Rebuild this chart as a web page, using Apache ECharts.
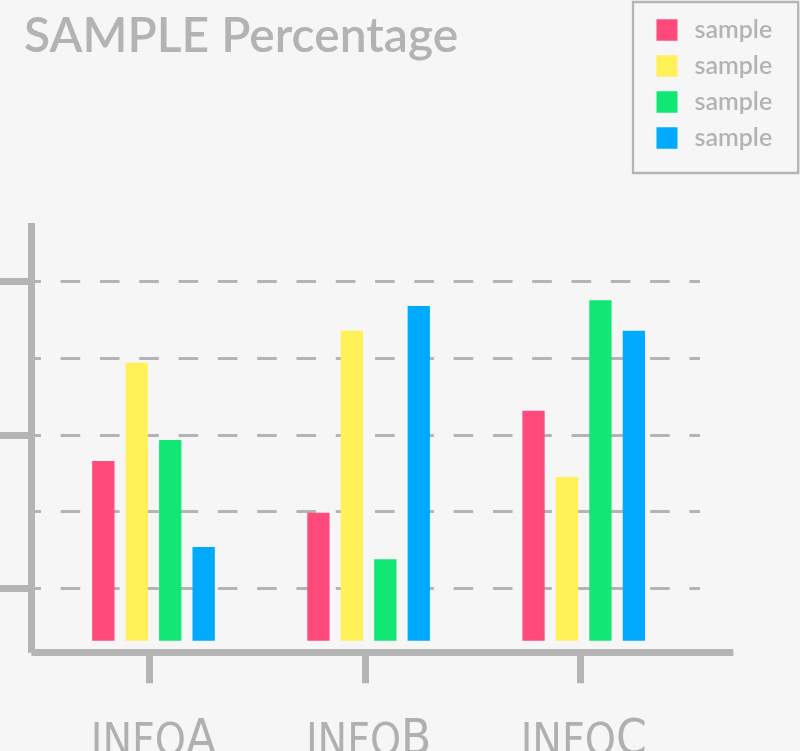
<!DOCTYPE html>
<html>
<head>
<meta charset="utf-8">
<script src="https://cdn.jsdelivr.net/npm/echarts@6/dist/echarts.min.js"></script>
<style>
html,body{margin:0;padding:0;background:#f6f6f6;}
#chart{width:800px;height:751px;}
</style>
</head>
<body>
<div id="chart"></div>
<script>
const titleText = 'SAMPLE Percentage';
const categories = ['INFOA', 'INFOB', 'INFOC'];
const seriesNames = ['s1', 's2', 's3', 's4'];
const legendLabels = ['sample', 'sample', 'sample', 'sample'];
const seriesColors = ['#ff4a7b', '#fff157', '#12e674', '#00aaff'];
const pinkValues = [50.0, 35.6, 64.0];
const yellowValues = [77.4, 86.3, 45.6];
const greenValues = [55.9, 22.7, 94.8];
const blueValues = [26.1, 93.2, 86.3];
const seriesValues = [pinkValues, yellowValues, greenValues, blueValues];

const gray = '#b4b4b4';
const labelFont = "'Liberation Sans Narrow', 'DejaVu Sans Condensed', 'Roboto Condensed', Roboto, sans-serif";

const chart = echarts.init(document.getElementById('chart'), null, {renderer: 'canvas'});
const hiddenAxis = {show: false};
const gridBase = {containLabel: false, outerBoundsMode: 'none'};

chart.setOption({
  backgroundColor: '#f6f6f6',
  animation: false,
  title: {
    text: titleText,
    left: 24,
    top: 12.5,
    padding: 0,
    textStyle: {fontFamily: 'Lato', fontSize: 48, fontWeight: 600, color: '#b3b3b3'}
  },
  legend: {
    orient: 'vertical',
    left: 633,
    top: 2,
    padding: [15.5, 26, 22.5, 23.5],
    borderColor: gray,
    borderWidth: 2.3,
    itemWidth: 21,
    itemHeight: 21.5,
    itemGap: 11,
    icon: 'rect',
    data: seriesNames,
    formatter: function (name) { return '{t|' + legendLabels[seriesNames.indexOf(name)] + '}'; },
    textStyle: {
      fontFamily: 'Lato', fontSize: 25, color: '#b3b3b3',
      rich: {t: {fontFamily: 'Lato', fontSize: 25, fontWeight: 600, color: '#b3b3b3', padding: [0, 0, 0, 12]}}
    }
  },
  grid: [
    Object.assign({left: 45.95, right: 108.75, top: 281.5, bottom: 110.3}, gridBase),
    Object.assign({left: 42.1, right: 112.45, top: 224, bottom: 98.3}, gridBase),
    Object.assign({left: 31.35, right: 66.7, top: 223, bottom: 98.3}, gridBase),
    Object.assign({left: 31.35, right: 100, top: 281.5, bottom: 162.7}, gridBase)
  ],
  xAxis: [
    {
      gridIndex: 0, type: 'category', data: categories,
      axisLine: {show: false}, axisTick: {show: false}, splitLine: {show: false},
      axisLabel: {
        margin: 73,
        formatter: function (v) { return '{a|' + v.slice(0, -1) + '}{b|' + v.slice(-1) + '}'; },
        rich: {
          a: {fontFamily: labelFont, fontSize: 44, color: '#b0b0b0', lineHeight: 52, verticalAlign: 'bottom'},
          b: {fontFamily: labelFont, fontSize: 49, color: '#b0b0b0', lineHeight: 52, verticalAlign: 'bottom'}
        }
      }
    },
    {
      gridIndex: 1, type: 'category', data: categories,
      axisLine: {show: false},
      axisTick: {show: true, alignWithLabel: true, length: 30.6, lineStyle: {color: gray, width: 7, cap: 'butt'}},
      axisLabel: {show: false}, splitLine: {show: false}
    },
    {
      gridIndex: 2, type: 'value', min: 0, max: 1,
      axisLine: {show: true, onZero: false, lineStyle: {color: gray, width: 7, cap: 'butt'}},
      axisTick: {show: false}, axisLabel: {show: false}, splitLine: {show: false}
    },
    Object.assign({gridIndex: 3, type: 'value', min: 0, max: 1}, hiddenAxis)
  ],
  yAxis: [
    {gridIndex: 0, type: 'value', min: 0, max: 100, show: false},
    {gridIndex: 1, type: 'value', min: 0, max: 1, show: false},
    {
      gridIndex: 2, type: 'value', min: 0, max: 1, position: 'left',
      axisLine: {show: true, onZero: false, lineStyle: {color: gray, width: 7, cap: 'butt'}},
      axisTick: {show: false}, axisLabel: {show: false}, splitLine: {show: false}
    },
    {
      gridIndex: 3, type: 'value', min: 0, max: 4, interval: 1, position: 'left',
      axisLine: {show: false}, axisTick: {show: false}, axisLabel: {show: false},
      splitLine: {show: true, lineStyle: {color: gray, width: 3, type: [19.6, 19.7], dashOffset: 10}}
    },
    {
      gridIndex: 3, type: 'value', min: 0, max: 4, interval: 2, position: 'left', offset: 0,
      axisLine: {show: false},
      axisTick: {show: true, length: 31.35, lineStyle: {color: gray, width: 7, cap: 'butt'}},
      axisLabel: {show: false}, splitLine: {show: false}
    }
  ],
  series: seriesValues.map(function (vals, i) {
    return {
      name: seriesNames[i],
      type: 'bar',
      xAxisIndex: 0,
      yAxisIndex: 0,
      data: vals,
      barWidth: 22.3,
      barGap: '50%',
      itemStyle: {color: seriesColors[i]}
    };
  })
});
</script>
</body>
</html>
